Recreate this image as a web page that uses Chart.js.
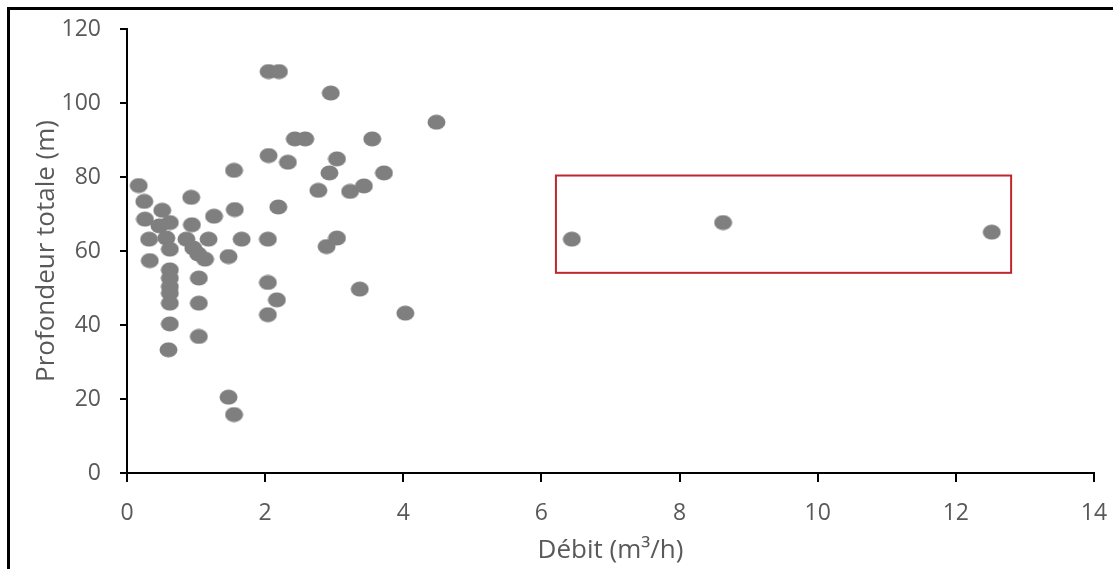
<!DOCTYPE html>
<html>
<head>
<meta charset="utf-8">
<script src="https://cdn.jsdelivr.net/npm/chart.js@4/dist/chart.umd.min.js"></script>
<style>
  html, body { margin: 0; padding: 0; background: #fff; }
  #frame { position: absolute; left: 7px; top: 7px; width: 1106px; height: 562px;
           border-left: 3px solid #000; border-top: 3px solid #000; box-sizing: border-box; }
  #wrap { position: absolute; left: 0; top: 0; width: 1113px; height: 569px; }
</style>
</head>
<body>
<div id="frame"></div>
<div id="wrap"><canvas id="c" width="1113" height="569"></canvas></div>
<script>
// Débit (m3/h)
const debit = [
  0.17, 0.25, 0.51, 0.93, 1.26, 1.56, 1.55, 2.19, 0.26, 0.62,
  0.47, 0.94, 0.32, 0.57, 0.86, 1.18, 1.66, 2.04, 0.62, 0.96,
  1.03, 0.33, 1.13, 1.47, 0.62, 0.62, 0.62, 0.62, 0.62, 1.04,
  1.04, 2.04, 2.17, 2.04, 0.62, 1.04, 0.60, 2.77, 2.05, 2.33,
  1.47, 1.55, 2.05, 2.20, 2.95, 4.48, 2.43, 2.58, 3.55, 3.04,
  2.93, 3.72, 3.23, 3.43, 3.04, 2.89, 3.37, 4.03, 6.44, 8.63,
  12.52
];
// Profondeur totale (m)
const profondeur = [
  77.7, 73.4, 71.0, 74.5, 69.4, 71.2, 81.8, 71.9, 68.6, 67.7,
  66.8, 67.1, 63.2, 63.5, 63.2, 63.2, 63.2, 63.2, 60.5, 60.8,
  59.2, 57.4, 57.8, 58.5, 54.9, 52.7, 50.4, 48.6, 45.9, 52.7,
  45.9, 51.5, 46.8, 42.8, 40.3, 36.9, 33.3, 76.4, 85.8, 84.0,
  20.5, 15.8, 108.5, 108.5, 102.7, 94.8, 90.3, 90.3, 90.3, 84.9,
  81.1, 81.1, 76.1, 77.6, 63.5, 61.2, 49.7, 43.2, 63.2, 67.7,
  65.1
];
// Highlight rectangle (data units): [xMin, xMax, yMin, yMax]
const highlightBox = [6.21, 12.8, 54.1, 80.4];

const xTitle = 'Débit (m³/h)';
const yTitle = 'Profondeur totale (m)';

const points = debit.map((x, i) => ({ x: x, y: profondeur[i] }));

// ellipse marker
const marker = document.createElement('canvas');
marker.width = 19; marker.height = 16;
(function () {
  const g = marker.getContext('2d');
  g.fillStyle = '#7f7f7f';
  g.beginPath();
  g.ellipse(9.5, 8, 9, 7.5, 0, 0, Math.PI * 2);
  g.fill();
})();

const boxPlugin = {
  id: 'boxPlugin',
  afterDatasetsDraw(chart) {
    const xs = chart.scales.x, ys = chart.scales.y, ctx = chart.ctx;
    const x1 = xs.getPixelForValue(highlightBox[0]);
    const x2 = xs.getPixelForValue(highlightBox[1]);
    const y1 = ys.getPixelForValue(highlightBox[3]);
    const y2 = ys.getPixelForValue(highlightBox[2]);
    ctx.save();
    ctx.strokeStyle = '#c0272d';
    ctx.lineWidth = 2;
    ctx.strokeRect(x1, y1, x2 - x1, y2 - y1);
    ctx.restore();
  }
};

const FONT = '"Open Sans", sans-serif';
const GREY = '#595959';

new Chart(document.getElementById('c'), {
  type: 'scatter',
  data: { datasets: [{ data: points, pointStyle: marker, pointRadius: 8, pointHoverRadius: 8 }] },
  options: {
    responsive: false,
    animation: false,
    events: [],
    layout: { padding: { left: 31, top: 29, right: 19, bottom: 3 } },
    plugins: { legend: { display: false }, tooltip: { enabled: false } },
    scales: {
      x: {
        type: 'linear', min: 0, max: 14,
        ticks: { stepSize: 2, color: GREY, font: { family: FONT, size: 23 }, padding: 18 },
        grid: { display: true, drawOnChartArea: false, drawTicks: true, tickLength: 9, color: '#000', lineWidth: 2 },
        border: { display: true, color: '#000', width: 2 },
        title: { display: true, text: xTitle, color: GREY, font: { family: FONT, size: 26 }, padding: { top: 0, bottom: 0 } },
        afterFit(s) { s.height = 93; s.paddingLeft = 0; s.paddingRight = 0; }
      },
      y: {
        type: 'linear', min: 0, max: 120,
        ticks: { stepSize: 20, color: GREY, font: { family: FONT, size: 23 }, padding: 19 },
        grid: { display: true, drawOnChartArea: false, drawTicks: true, tickLength: 7, color: '#000', lineWidth: 2 },
        border: { display: true, color: '#000', width: 2 },
        title: { display: true, text: yTitle, color: GREY, font: { family: FONT, size: 26 }, padding: { top: 0, bottom: 0 } },
        afterFit(s) { s.width = 96; s.paddingTop = 0; s.paddingBottom = 0; }
      }
    }
  },
  plugins: [boxPlugin]
});
</script>
</body>
</html>
